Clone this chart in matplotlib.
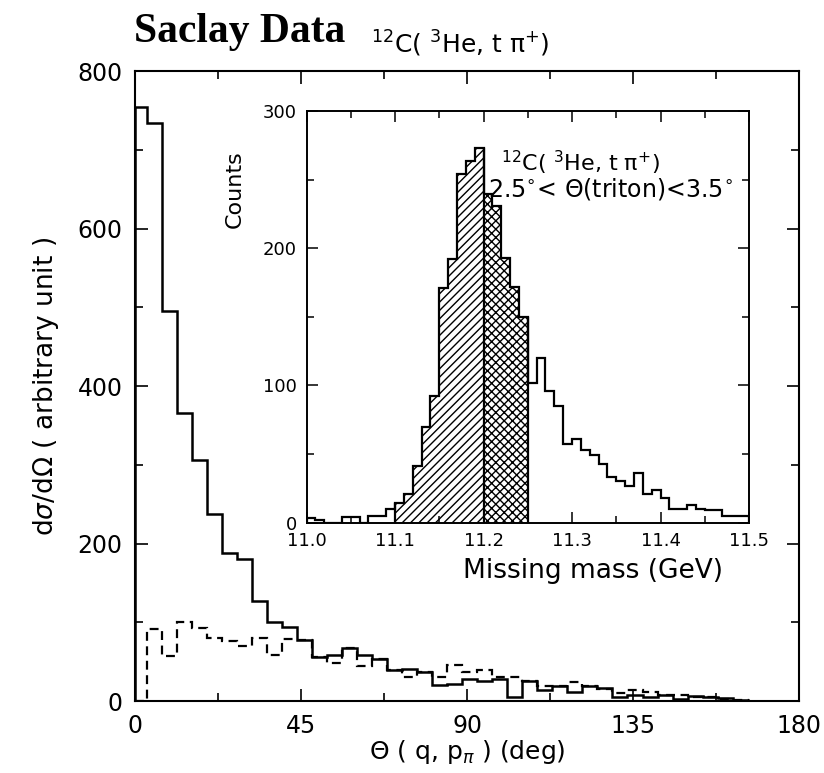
import matplotlib as mpl

mpl.use("Agg")
import matplotlib.pyplot as plt
import numpy as np
from matplotlib.ticker import MultipleLocator

# main panel: angular distribution, theta bins (deg)
theta_edges = np.r_[0.0, 3.2 + 4.07 * np.arange(42)]
solid_vals = [755, 734, 496, 366, 306, 237, 188, 180, 127, 101,
              94, 77, 56, 58, 68, 58, 53, 39, 41, 37,
              20, 22, 28, 26, 28, 5, 25, 14, 19, 12,
              19, 17, 5, 8, 5, 8, 3, 7, 5, 4,
              1]
dashed_vals = [0, 91, 57, 100, 93, 80, 76, 70, 80, 58,
               79, 78, 56, 48, 68, 45, 53, 39, 30, 37,
               31, 46, 37, 39, 31, 31, 25, 19, 19, 24,
               19, 15, 10, 14, 12, 8, 8, 5, 5, 3,
               1]

# inset: missing mass spectrum, 10 MeV bins
mass_edges = np.linspace(11.0, 11.5, 51)
counts = [3, 2, 0, 0, 4, 4, 0, 5, 5, 10,
          14, 21, 41, 70, 92, 171, 192, 254, 264, 273,
          240, 231, 193, 172, 150, 102, 120, 96, 85, 57,
          61, 53, 49, 43, 33, 30, 27, 36, 21, 24,
          18, 10, 10, 13, 10, 9, 9, 5, 5, 5]
hatch_bins = range(10, 20)   # 11.10 - 11.20
cross_bins = range(20, 25)   # 11.20 - 11.25

plt.rcParams["font.family"] = "DejaVu Sans"
plt.rcParams["hatch.linewidth"] = 1.0

fig = plt.figure(figsize=(8.24, 7.73), dpi=100)

ax = fig.add_axes([0.164, 0.093, 0.806, 0.815])
ax.stairs(solid_vals, theta_edges[:len(solid_vals) + 1], color="black", linewidth=1.8)
ax.stairs(dashed_vals, theta_edges[:len(dashed_vals) + 1], color="black",
          linewidth=1.6, linestyle=(0, (4, 2.5)))
ax.set_xlim(0, 180)
ax.set_ylim(0, 800)
ax.xaxis.set_major_locator(MultipleLocator(45))
ax.xaxis.set_minor_locator(MultipleLocator(22.5))
ax.yaxis.set_major_locator(MultipleLocator(200))
ax.yaxis.set_minor_locator(MultipleLocator(100))
ax.tick_params(which="both", direction="in", top=True, right=True, width=1.2)
ax.tick_params(which="major", length=9, labelsize=17, pad=9)
ax.tick_params(which="minor", length=6)
for s in ax.spines.values():
    s.set_linewidth(1.5)
ax.set_xlabel(r"$\Theta$ ( q, p$_{\pi}$ ) (deg)", fontsize=18, labelpad=0)
ax.set_ylabel(r"d$\sigma$/d$\Omega$ ( arbitrary unit )", fontsize=19, labelpad=12)

fig.text(0.163, 0.958, "Saclay Data", family="Liberation Serif", weight="bold",
         fontsize=30, va="center", ha="left")
fig.text(0.45, 0.943, r"$^{12}$C( $^{3}$He, t π$^{+}$)", fontsize=18,
         va="center", ha="left")

# inset
ins = fig.add_axes([0.372, 0.324, 0.537, 0.532])
for i in hatch_bins:
    ins.bar(mass_edges[i], counts[i], width=0.01, align="edge", fill=False,
            hatch="////", linewidth=0, edgecolor="black")
for i in cross_bins:
    ins.bar(mass_edges[i], counts[i], width=0.01, align="edge", fill=False,
            hatch="xxxx", linewidth=0, edgecolor="black")
ins.stairs(counts, mass_edges, color="black", linewidth=1.6)
ins.vlines([mass_edges[10], mass_edges[20], mass_edges[25]], 0,
           [counts[10], counts[19], counts[24]], color="black", linewidth=1.6)
ins.set_xlim(11.0, 11.5)
ins.set_ylim(0, 300)
ins.xaxis.set_major_locator(MultipleLocator(0.1))
ins.xaxis.set_minor_locator(MultipleLocator(0.05))
ins.yaxis.set_major_locator(MultipleLocator(100))
ins.yaxis.set_minor_locator(MultipleLocator(50))
ins.tick_params(which="both", direction="in", top=True, right=True, width=1.1)
ins.tick_params(which="major", length=8, labelsize=13, pad=7)
ins.tick_params(which="minor", length=5)
for s in ins.spines.values():
    s.set_linewidth(1.4)
ins.set_ylabel("Counts", fontsize=16)
ins.yaxis.set_label_coords(-0.14, 0.81)
ins.set_xlabel("Missing mass (GeV)", fontsize=19)
ins.xaxis.set_label_coords(0.647, -0.085)
ins.text(0.44, 0.875, r"$^{12}$C( $^{3}$He, t π$^{+}$)", transform=ins.transAxes,
         fontsize=16, ha="left", va="center")
ins.text(0.41, 0.81, r"2.5$^{\circ}$< $\Theta$(triton)<3.5$^{\circ}$",
         transform=ins.transAxes, fontsize=17, ha="left", va="center")

fig.savefig("out.png", dpi=100)
plt.close(fig)
